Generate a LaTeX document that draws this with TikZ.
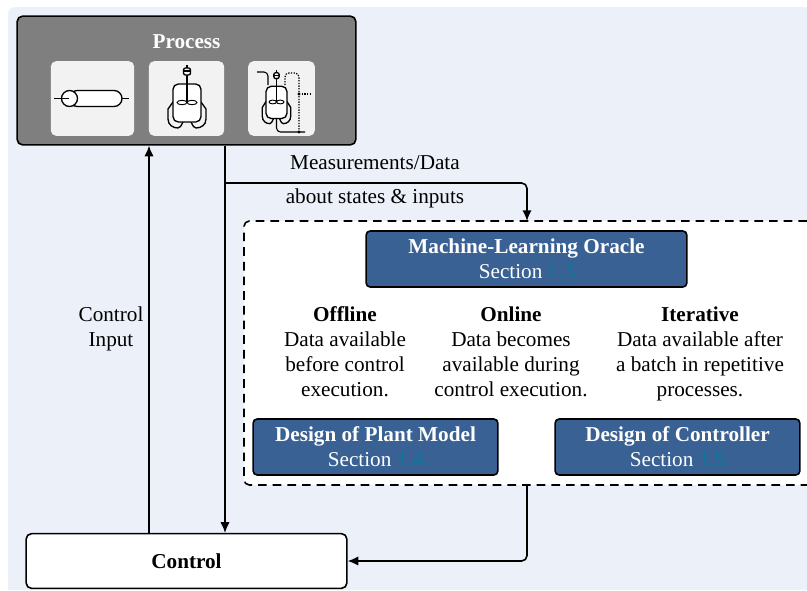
\documentclass[tikz,border=0pt]{standalone}
\usepackage{fontspec}
\setmainfont{Liberation Serif}
\usepackage{tikz}
\usetikzlibrary{calc}
\usetikzlibrary{arrows.meta}
\definecolor{bgblue}{HTML}{ECF1F9}
\definecolor{procgray}{HTML}{7F7F7F}
\definecolor{icongray}{HTML}{F2F2F2}
\definecolor{boxblue}{HTML}{3A6194}
\definecolor{secblue}{HTML}{0B7A9E}
\newcommand{\secref}[1]{Section {\color{secblue}#1}}
% stirred tank, drawn around the tip of its shaft
\newcommand{\reactor}[4]{%
  \begin{scope}[shift={(#1,#2)},xscale=#3,yscale=#4,line width=1pt]
    \draw (-14,23) -- (-19,30) -- (-19,40)
      .. controls (-19,46) and (-14,49) .. (-9,49) .. controls (-7,49) and (-6,47) .. (-4,43);
    \draw (14,23) -- (19,30) -- (19,40)
      .. controls (19,46) and (14,49) .. (9,49) .. controls (7,49) and (6,47) .. (4,43);
    \draw[fill=white,rounded corners=4pt] (-14,5) rectangle (14,43);
    \draw[line width=1.3pt] (0,-4) -- (0,23);
    \draw[fill=icongray,rounded corners=1.5pt] (-3.5,-11) rectangle (3.5,-4);
    \draw (-3.5,-8) -- (3.5,-8);
    \draw (0,-14) -- (0,-11);
    \draw[line width=0.7pt,fill=white] (-5,23.5) ellipse (5 and 2.2);
    \draw[line width=0.7pt,fill=white] (5,23.5) ellipse (5 and 2.2);
  \end{scope}}
\tikzset{
  flowline/.style={->,line width=1.2pt},
  bluebox/.style={draw=black,line width=1.2pt,fill=boxblue,text=white,rectangle,rounded corners=3pt,
    align=center,minimum height=42pt},
  iconbox/.style={fill=icongray,rectangle,rounded corners=4pt},
  textcol/.style={align=center,anchor=north}
}

\begin{document}
\begin{tikzpicture}[x=0.75pt,y=-0.75pt,font=\fontsize{15.9}{18.75}\selectfont]
    \begin{scope}[>={Latex[length=8pt,width=7pt]}] %for filled arrow tips

      % defines
      \pgfmathsetmacro\InputXCoord{149} % control input X
      \pgfmathsetmacro\MeasXCoord{225} % measurements X
      \pgfmathsetmacro\OracleXCoord{527} % frame connection X
      \pgfmathsetmacro\FrameTop{221}
      \pgfmathsetmacro\FrameBot{485}

      \useasboundingbox (0,0) rectangle (807,590);
      \fill[bgblue] (807,590) -- (8,590) -- (8,14) .. controls (8,10) and (11,7) .. (15,7) -- (807,7) -- cycle;

      % dashed frame, runs off the right side
      \fill[white] (244,\FrameTop) rectangle (807,\FrameBot);
      \draw[line width=1.2pt,dash pattern=on 6.5pt off 4.5pt,rounded corners=4pt]
        (807,\FrameTop) -- (244,\FrameTop) -- (244,\FrameBot) -- (807,\FrameBot);
      \coordinate (FrameIn) at (\OracleXCoord,\FrameTop);
      \coordinate (FrameOut) at (\OracleXCoord,\FrameBot);
      \coordinate (InputX) at (\InputXCoord,0);
      \coordinate (MeasX) at (\MeasXCoord,0);

      % process and control
      \node (Process) at (186.5,80.5) [draw=black,line width=1.2pt,fill=procgray,rectangle,rounded corners=4pt,
        minimum width=254pt,minimum height=96.5pt] {};
      \node (ProcessLabel) at (186.5,42) [text=white] {\textbf{Process}};
      \node (Control) at (186.5,561) [draw=black,line width=1.2pt,fill=white,rectangle,rounded corners=4pt,
        minimum width=240.5pt,minimum height=41pt] {\textbf{Control}};

      % icons
      \node (IconDrum) at (92.5,98.5) [iconbox,minimum width=62.5pt,minimum height=56pt] {};
      \node (IconTank) at (186.5,98.5) [iconbox,minimum width=56.5pt,minimum height=56pt] {};
      \node (IconLoop) at (281.5,98.5) [iconbox,minimum width=50pt,minimum height=56pt] {};

      % drum
      \draw[line width=1pt,rounded corners=6pt,fill=white] (69.5,90.5) -- (122,90.5) -- (122,106.5) -- (69.5,106.5) -- cycle;
      \draw[line width=1pt,fill=white] (69.5,98.5) circle (6pt);
      \draw[line width=0.8pt] (54,98.5) -- (69,98.5);
      \draw[line width=0.8pt] (122,98.5) -- (129,98.5);

      \reactor{187}{79}{1}{1}

      % tank with feed, outlet and recycle
      \reactor{276.5}{82}{0.75}{0.85}
      \draw[line width=0.8pt,rounded corners=3pt] (257,72) -- (268,72) -- (268,85);
      \draw[line width=0.8pt,rounded corners=3pt] (276.5,118) -- (276.5,132) -- (305,132);
      \draw[line width=0.9pt,dash pattern=on 1pt off 1pt,rounded corners=3pt] (285,85) -- (285,73) -- (299,73) -- (299,132);
      \draw[line width=0.9pt,dash pattern=on 1pt off 1pt] (299,94) -- (310,94);
      \fill (299,94) circle (1.2pt);
      \fill (299,132) circle (1.2pt);

      % oracle and designs
      \node (Oracle) at (526.5,259) [bluebox,minimum width=240.5pt] {\textbf{Machine-Learning Oracle}\\\secref{1.3}};
      \node (PlantModel) at (375.5,447) [bluebox,minimum width=183.5pt] {\textbf{Design of Plant Model}\\\secref{1.4}};
      \node (Controller) at (677.5,447) [bluebox,minimum width=183.5pt] {\textbf{Design of Controller}\\\secref{1.5}};

      % columns
      \node (Offline) at (345,302) [textcol] {\textbf{Offline}\\Data available\\before control\\execution.};
      \node (Online) at (511,302) [textcol] {\textbf{Online}\\Data becomes\\available during\\control execution.};
      \node (Iterative) at (700,302) [textcol] {\textbf{Iterative}\\Data available after\\a batch in repetitive\\processes.};

      % connection lines
      \draw[flowline] (Control.north -| InputX) -- (Process.south -| InputX);
      \draw[flowline] (Process.south -| MeasX) -- (Control.north -| MeasX);
      \draw[flowline,rounded corners=4pt] (MeasX |- 0,183) -- (\OracleXCoord,183) -- (FrameIn);
      \draw[flowline,rounded corners=4pt] (FrameOut) |- (Control.east);

      \node (InputLabel) at (111,302) [textcol] {Control\\Input};
      \node (MeasLabel) at (375,163) {Measurements/Data};
      \node (StatesLabel) at (375,198) {about states \& inputs};

    \end{scope}
\end{tikzpicture}
\end{document}
